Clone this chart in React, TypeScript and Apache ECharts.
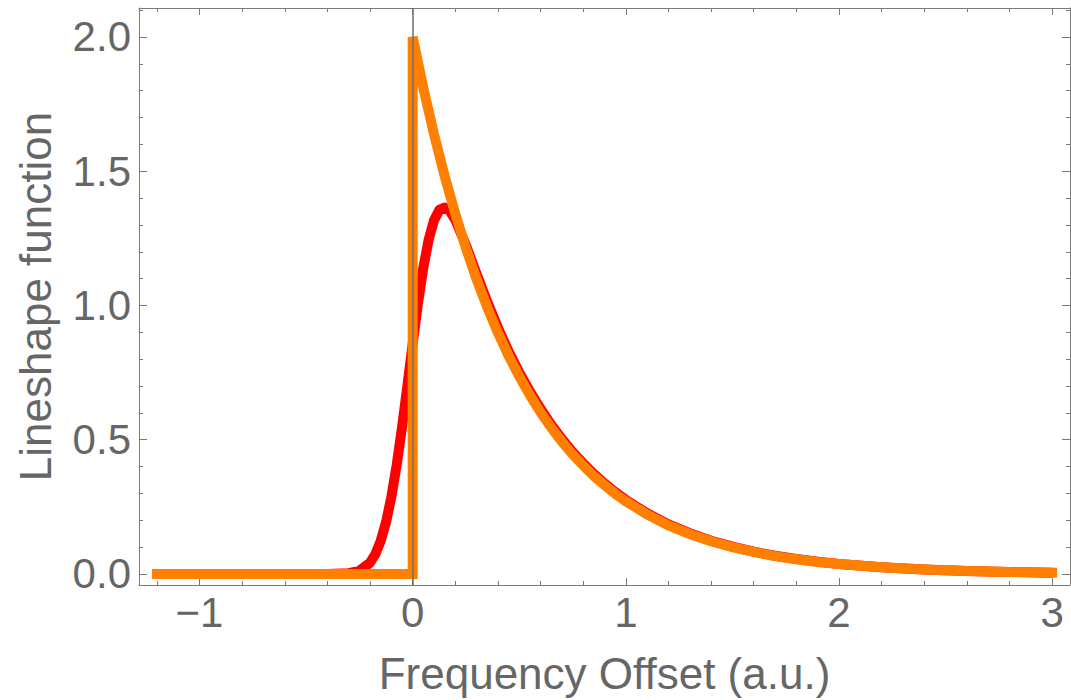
import React, { useEffect, useRef } from "react";
import * as echarts from "echarts";

// Orange: one-sided exponential lineshape
const orangeX = [-1.2, 0, 0, 0.05, 0.1, 0.15, 0.2, 0.25, 0.3, 0.35, 0.4, 0.45, 0.5, 0.55, 0.6, 0.65, 0.7, 0.75, 0.8, 0.85, 0.9, 0.95, 1.0, 1.1, 1.2, 1.3, 1.4, 1.5, 1.6, 1.7, 1.8, 1.9, 2.0, 2.2, 2.4, 2.6, 2.8, 3.0];
const orangeY = [0, 0, 2.0, 1.81, 1.638, 1.482, 1.341, 1.213, 1.098, 0.993, 0.899, 0.813, 0.736, 0.666, 0.602, 0.545, 0.493, 0.446, 0.404, 0.365, 0.331, 0.299, 0.271, 0.222, 0.181, 0.149, 0.122, 0.0996, 0.082, 0.0667, 0.055, 0.0447, 0.037, 0.025, 0.017, 0.011, 0.0074, 0.005];

// Red: broadened lineshape
const redX = [-1.2, -0.4, -0.3, -0.25, -0.2, -0.175, -0.15, -0.125, -0.1, -0.075, -0.05, -0.025, 0, 0.025, 0.05, 0.075, 0.1, 0.125, 0.15, 0.175, 0.2, 0.25, 0.3, 0.35, 0.4, 0.45, 0.5, 0.55, 0.6, 0.65, 0.7, 0.75, 0.8, 0.85, 0.9, 0.95, 1.0, 1.1, 1.2, 1.3, 1.4, 1.5, 1.6, 1.7, 1.8, 1.9, 2.0, 2.2, 2.4, 2.6, 2.8, 3.0];
const redY = [0, 0, 0.003, 0.012, 0.042, 0.074, 0.123, 0.193, 0.287, 0.406, 0.546, 0.7, 0.858, 1.009, 1.141, 1.245, 1.317, 1.356, 1.365, 1.351, 1.319, 1.224, 1.117, 1.013, 0.917, 0.829, 0.751, 0.68, 0.615, 0.556, 0.503, 0.455, 0.412, 0.372, 0.337, 0.305, 0.276, 0.226, 0.185, 0.152, 0.124, 0.102, 0.083, 0.068, 0.056, 0.046, 0.037, 0.025, 0.017, 0.011, 0.0075, 0.005];

const xMajorTicks = [-1, 0, 1, 2, 3];
const xTickLabels = ["\u22121", "0", "1", "2", "3"];
const xMinorTicks = [-1.2, -0.8, -0.6, -0.4, -0.2, 0.2, 0.4, 0.6, 0.8, 1.2, 1.4, 1.6, 1.8, 2.2, 2.4, 2.6, 2.8];
const yMajorTicks = [0, 0.5, 1, 1.5, 2];
const yTickLabels = ["0.0", "0.5", "1.0", "1.5", "2.0"];
const yMinorTicks = [0.1, 0.2, 0.3, 0.4, 0.6, 0.7, 0.8, 0.9, 1.1, 1.2, 1.3, 1.4, 1.6, 1.7, 1.8, 1.9, 2.1];
const xRange = [-1.284, 3.084];
const yRange = [-0.041, 2.108];

const xTitle = "Frequency Offset (a.u.)";
const yTitle = "Lineshape function";

const FONT = "'Liberation Sans', Arial, sans-serif";
const FRAME = "#7a7a7a";
const TEXT = "#666666";

function labelFor(values: number[], labels: string[]) {
  return (v: number) => {
    const i = values.findIndex((t) => Math.abs(t - v) < 1e-6);
    return i >= 0 ? labels[i] : "";
  };
}

function makeAxis(
  kind: "x" | "y",
  position: string,
  ticks: number[],
  len: number,
  showLine: boolean,
  showLabel: boolean
): any {
  const range = kind === "x" ? xRange : yRange;
  const ax: any = {
    type: "value",
    position,
    min: range[0],
    max: range[1],
    splitLine: { show: false },
    axisLine: { show: showLine, onZero: false, lineStyle: { color: FRAME, width: 1 } },
    axisTick: { show: true, inside: true, length: len, customValues: ticks, lineStyle: { color: FRAME, width: 1 } },
    axisLabel: { show: false },
  };
  if (showLabel) {
    ax.axisLabel = {
      show: true,
      customValues: ticks,
      formatter: kind === "x" ? labelFor(xMajorTicks, xTickLabels) : labelFor(yMajorTicks, yTickLabels),
      color: TEXT,
      fontSize: 42,
      fontFamily: FONT,
      margin: kind === "x" ? 6 : 8,
      showMinLabel: true,
      showMaxLabel: true,
    };
  }
  return ax;
}

export default function App() {
  const ref = useRef<HTMLDivElement>(null);
  useEffect(() => {
    if (!ref.current) return;
    const chart = echarts.init(ref.current, null, { renderer: "svg" });
    const orangeData = orangeX.map((x, i) => [x, orangeY[i]]);
    const redData = redX.map((x, i) => [x, redY[i]]);

    const xAxes = [
      makeAxis("x", "bottom", xMajorTicks, 7, true, true),
      makeAxis("x", "bottom", xMinorTicks, 4, false, false),
      makeAxis("x", "top", xMajorTicks, 7, true, false),
      makeAxis("x", "top", xMinorTicks, 4, false, false),
    ];
    xAxes[0].name = xTitle;
    xAxes[0].nameLocation = "middle";
    xAxes[0].nameGap = 66;
    xAxes[0].nameTextStyle = { color: TEXT, fontSize: 44, fontFamily: FONT };

    const yAxes = [
      makeAxis("y", "left", yMajorTicks, 8, true, true),
      makeAxis("y", "left", yMinorTicks, 4, false, false),
      makeAxis("y", "right", yMajorTicks, 8, true, false),
      makeAxis("y", "right", yMinorTicks, 4, false, false),
    ];
    yAxes[0].name = yTitle;
    yAxes[0].nameLocation = "middle";
    yAxes[0].nameGap = 82;
    yAxes[0].nameTextStyle = { color: TEXT, fontSize: 44, fontFamily: FONT };

    chart.setOption({
      animation: false,
      backgroundColor: "#ffffff",
      grid: { left: 139, top: 8, width: 931, height: 578, containLabel: false },
      xAxis: xAxes,
      yAxis: yAxes,
      series: [
        {
          type: "line",
          name: "red",
          data: redData,
          xAxisIndex: 0,
          yAxisIndex: 0,
          showSymbol: false,
          symbol: "none",
          z: 2,
          lineStyle: { color: "#ff0000", width: 10, cap: "butt", join: "round" },
        },
        {
          type: "line",
          name: "orange",
          data: orangeData,
          xAxisIndex: 0,
          yAxisIndex: 0,
          showSymbol: false,
          symbol: "none",
          z: 3,
          lineStyle: { color: "#ff8000", width: 10, cap: "square", join: "miter", miterLimit: 2 },
        },
        {
          type: "line",
          name: "axis",
          data: [],
          xAxisIndex: 0,
          yAxisIndex: 0,
          z: 5,
          markLine: {
            silent: true,
            symbol: ["none", "none"],
            label: { show: false },
            lineStyle: { color: "#6e6e6e", width: 1.5, type: "solid" },
            data: [{ xAxis: 0 }],
          },
        },
      ],
    });
    return () => chart.dispose();
  }, []);
  return (
    <div
      ref={ref}
      style={{ position: "absolute", left: 0, top: 0, width: 1071, height: 700, background: "#fff" }}
    />
  );
}
